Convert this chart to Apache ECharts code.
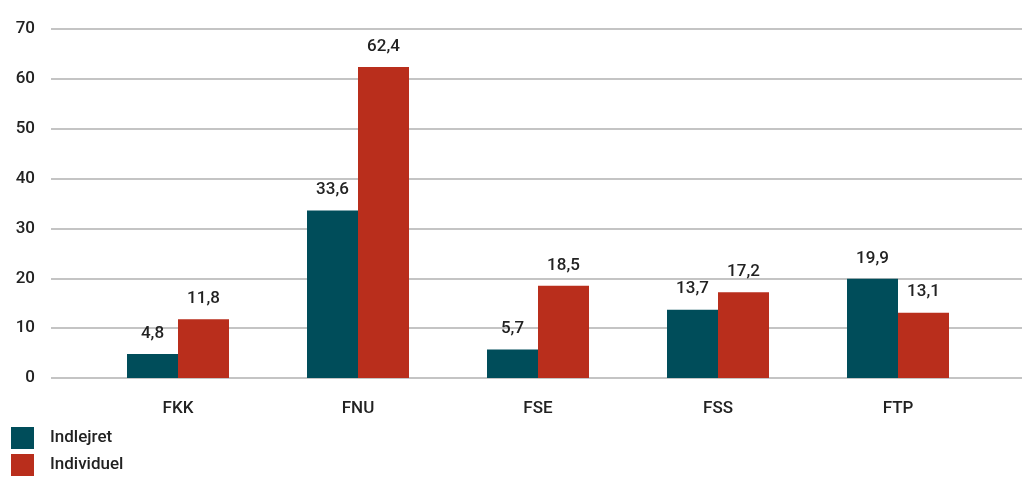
<!DOCTYPE html>
<html>
<head>
<meta charset="utf-8">
<script src="https://cdn.jsdelivr.net/npm/echarts@6/dist/echarts.min.js"></script>
<style>
  html, body { margin: 0; padding: 0; background: #fff; }
  #chart { width: 1022px; height: 477px; }
</style>
</head>
<body>
<div id="chart"></div>
<script>
const categories = ['FKK', 'FNU', 'FSE', 'FSS', 'FTP']
const indlejret = [4.8, 33.6, 5.7, 13.7, 19.9]
const individuel = [11.8, 62.4, 18.5, 17.2, 13.1]

const fontFamily = 'Roboto, "DejaVu Sans", sans-serif'
const fmt = p => String(p.value).replace('.', ',')

let chart = echarts.init(document.getElementById('chart'))

const option = {
    animation: false,
    textStyle: { fontFamily: fontFamily },
    legend: {
        orient: 'vertical',
        left: 11,
        top: 427,
        height: 50,
        itemWidth: 23,
        itemHeight: 22,
        itemGap: 5,
        padding: 0,
        icon: 'rect',
        textStyle: { fontSize: 17, color: '#222', fontWeight: 500, padding: [0, 0, 0, 11] },
        data: ['Indlejret', 'Individuel']
    },
    grid: [
        // grid for gridlines + y labels
        { left: 51, right: 0, top: 29, height: 349 },
        // grid for bars
        { left: 88, width: 900, top: 29, height: 349 }
    ],
    xAxis: [
        { gridIndex: 0, type: 'value', show: false, min: 0, max: 1 },
        {
            gridIndex: 1,
            type: 'category',
            data: categories,
            axisLine: { show: false },
            axisTick: { show: false },
            axisLabel: { color: '#222', fontSize: 17, fontWeight: 500, margin: 22 }
        }
    ],
    yAxis: [
        {
            gridIndex: 0,
            type: 'value',
            min: 0,
            max: 70,
            interval: 10,
            axisLine: { show: false },
            axisTick: { show: false },
            axisLabel: { color: '#222', fontSize: 17, fontWeight: 500, margin: 16 },
            splitLine: { lineStyle: { color: '#c4c4c4', width: 2 } }
        },
        {
            gridIndex: 1,
            type: 'value',
            min: 0,
            max: 70,
            interval: 10,
            show: false,
            splitLine: { show: false }
        }
    ],
    series: [
        {
            name: 'Indlejret',
            type: 'bar',
            xAxisIndex: 1,
            yAxisIndex: 1,
            barWidth: 51,
            barGap: 0,
            color: '#004d5a',
            label: {
                show: true, position: 'top', distance: 12,
                color: '#222', fontSize: 17, fontWeight: 500, formatter: fmt
            },
            data: indlejret
        },
        {
            name: 'Individuel',
            type: 'bar',
            xAxisIndex: 1,
            yAxisIndex: 1,
            barWidth: 51,
            barGap: 0,
            color: '#b92e1c',
            label: {
                show: true, position: 'top', distance: 12,
                color: '#222', fontSize: 17, fontWeight: 500, formatter: fmt
            },
            data: individuel
        }
    ]
}
chart.setOption(option)
</script>
</body>
</html>
